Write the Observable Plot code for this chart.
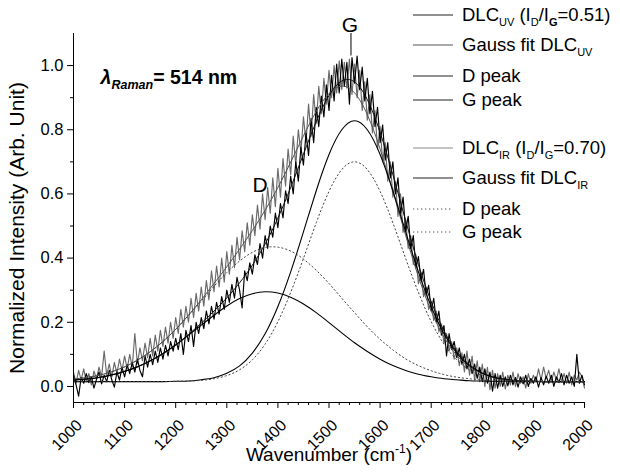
<!DOCTYPE html>
<html><head><meta charset="utf-8">
<script src="https://cdn.jsdelivr.net/npm/d3@7"></script>
<script src="https://cdn.jsdelivr.net/npm/@observablehq/plot@0.6"></script>
<style>
body{margin:0;background:#fff;}
#wrap{position:relative;width:620px;height:476px;font-family:"Liberation Sans",Arial,sans-serif;background:#fff;}
.row{position:absolute;left:413px;height:18px;white-space:nowrap;font-size:18.5px;line-height:18px;color:#000;}
.row svg{position:absolute;left:0;top:5px;}
.row span{position:absolute;left:49px;top:0;}
.row sub{font-size:11px;vertical-align:-5px;line-height:0;}
</style></head>
<body><div id="wrap"></div>
<script>
// ---------- data ----------
const spectrumWavenumber = [
1000,1005,1010,1015,1020,1025,1030,1035,1040,1045,1050,1055,1060,1065,1070,1075,1080,1085,1090,1095,
1100,1105,1110,1115,1120,1125,1130,1135,1140,1145,1150,1155,1160,1165,1170,1175,1180,1185,1190,1195,
1200,1205,1210,1215,1220,1225,1230,1235,1240,1245,1250,1255,1260,1265,1270,1275,1280,1285,1290,1295,
1300,1305,1310,1315,1320,1325,1330,1335,1340,1345,1350,1355,1360,1365,1370,1375,1380,1385,1390,1395,
1400,1405,1410,1415,1420,1425,1430,1435,1440,1445,1450,1455,1460,1465,1470,1475,1480,1485,1490,1495,
1500,1505,1510,1515,1520,1525,1530,1535,1540,1545,1550,1555,1560,1565,1570,1575,1580,1585,1590,1595,
1600,1605,1610,1615,1620,1625,1630,1635,1640,1645,1650,1655,1660,1665,1670,1675,1680,1685,1690,1695,
1700,1705,1710,1715,1720,1725,1730,1735,1740,1745,1750,1755,1760,1765,1770,1775,1780,1785,1790,1795,
1800,1805,1810,1815,1820,1825,1830,1835,1840,1845,1850,1855,1860,1865,1870,1875,1880,1885,1890,1895,
1900,1905,1910,1915,1920,1925,1930,1935,1940,1945,1950,1955,1960,1965,1970,1975,1980,1985,1990,1995,
2000];
const dlcUV = [
.035,.005,-.030,.028,.010,.040,.012,.030,-.005,.022,.045,.008,.035,.015,.050,.020,-.002,.045,.020,.060,
.030,.068,.040,.075,.045,.085,.050,.030,.095,.060,.100,.068,.110,.075,.120,.085,.128,.095,.140,.110,
.150,.115,.165,.100,.175,.140,.190,.125,.200,.165,.215,.180,.235,.195,.250,.210,.262,.225,.280,.240,
.300,.262,.318,.275,.340,.300,.245,.360,.330,.385,.350,.410,.380,.445,.400,.470,.430,.500,.465,.540,
.495,.570,.525,.610,.570,.655,.600,.700,.640,.745,.690,.790,.720,.835,.760,.870,.810,.905,.840,.940,
.860,.970,.890,1.005,.915,1.020,.935,1.010,.880,1.025,.945,1.030,.925,.995,.890,.960,.850,.920,.810,.870,
.760,.815,.705,.760,.650,.700,.600,.650,.540,.590,.485,.530,.430,.470,.370,.405,.330,.365,.285,.315,
.235,.275,.200,.235,.160,.190,.095,.165,.115,.140,.090,.120,.070,.100,.055,.085,.040,.070,.025,.060,
.015,.055,.010,.045,-.015,.040,-.005,.035,.000,.030,.002,.035,.005,.028,-.002,.030,.008,.035,.000,.025,
.010,.030,-.002,.028,.005,.032,.010,.035,.000,.030,.012,.040,.005,.035,.010,.030,.000,.100,.010,.035,
.005];
const dlcIR = [
.045,.010,.050,.020,.055,.015,.040,.005,.048,.025,.060,.030,.110,.035,.070,.030,.075,.040,.085,.050,
.095,.055,.100,.060,.165,.070,.120,.080,.135,.090,.150,.095,.160,.110,.175,.125,.185,.135,.200,.150,
.215,.165,.240,.185,.250,.200,.275,.215,.290,.235,.310,.250,.330,.270,.360,.295,.375,.310,.400,.325,
.420,.350,.440,.370,.465,.395,.485,.420,.510,.440,.535,.470,.565,.490,.600,.520,.620,.540,.650,.560,
.680,.590,.710,.625,.740,.660,.780,.690,.800,.730,.840,.760,.880,.780,.910,.820,.935,.850,.960,.880,
.985,.900,1.000,.915,1.015,.925,1.010,.930,1.020,.910,1.005,.900,.985,.860,.950,.830,.910,.790,.860,.740,
.810,.700,.760,.640,.700,.590,.640,.530,.600,.480,.520,.430,.470,.380,.410,.320,.355,.280,.310,.240,
.265,.205,.235,.170,.195,.135,.165,.110,.140,.085,.120,.065,.105,.045,.110,.035,.095,.020,.080,.015,
.070,.000,.060,-.010,.050,-.005,.040,.000,.045,-.008,.035,.005,.045,.000,.040,.010,.030,-.005,.040,.010,
.035,.015,.055,.020,.060,.025,.050,.015,.045,.020,.055,.015,.040,.010,.045,.005,.035,.020,.045,.030,
-.005];
const fitWavenumber = [1000,1025,1050,1075,1100,1125,1150,1175,1200,1225,1250,1275,1300,1325,1350,1375,1400,1425,1450,1475,
1500,1525,1550,1575,1600,1625,1650,1675,1700,1725,1750,1775,1800,1825,1850,1875,1900,1925,1950,1975,2000];
const gaussFitUV = [.020,.023,.028,.036,.047,.061,.080,.103,.130,.162,.197,.235,.276,.323,.378,.444,.525,.620,.724,.825,
.907,.952,.949,.894,.792,.660,.517,.380,.264,.173,.109,.068,.042,.028,.021,.018,.016,.015,.015,.015,.015];
const dPeakUV = [.020,.023,.028,.036,.047,.061,.079,.102,.129,.160,.191,.222,.251,.274,.289,.295,.291,.278,.257,.230,
.199,.167,.136,.109,.085,.065,.050,.038,.030,.024,.021,.018,.017,.016,.016,.015,.015,.015,.015,.015,.015];
const gPeakUV = [.015,.015,.015,.015,.015,.015,.015,.015,.016,.017,.021,.027,.041,.064,.104,.164,.249,.357,.482,.610,
.723,.800,.828,.800,.723,.610,.482,.357,.249,.164,.104,.064,.041,.027,.021,.017,.016,.015,.015,.015,.015];
const gaussFitIR = [.023,.028,.035,.046,.061,.082,.108,.140,.178,.222,.270,.321,.373,.428,.486,.549,.620,.699,.781,.857,
.913,.936,.915,.847,.740,.608,.471,.342,.235,.154,.097,.060,.039,.027,.020,.017,.016,.015,.015,.015,.015];
const dPeakIR = [.023,.028,.035,.046,.061,.082,.108,.140,.178,.221,.266,.312,.355,.391,.418,.433,.434,.422,.397,.362,
.321,.275,.230,.186,.147,.114,.086,.065,.049,.037,.029,.024,.020,.018,.017,.016,.016,.015,.015,.015,.015];
const gPeakIR = [.015,.015,.015,.015,.015,.015,.015,.015,.016,.017,.019,.024,.034,.052,.083,.132,.202,.293,.399,.510,
.608,.676,.700,.676,.608,.510,.399,.293,.202,.132,.083,.052,.034,.024,.019,.017,.016,.015,.015,.015,.015];
const xTicks = [1000,1100,1200,1300,1400,1500,1600,1700,1800,1900,2000];
const xMinorTicks = [1020,1040,1060,1080,1120,1140,1160,1180,1220,1240,1260,1280,1320,1340,1360,1380,1420,1440,1460,1480,
1520,1540,1560,1580,1620,1640,1660,1680,1720,1740,1760,1780,1820,1840,1860,1880,1920,1940,1960,1980];
const yTicks = [0.0,0.2,0.4,0.6,0.8,1.0];
const yMinorTicks = [0.1,0.3,0.5,0.7,0.9];
const peakLabels = [{w:1365, v:0.628, t:"D"}, {w:1541, v:1.127, t:"G"}];
const gMarker = [{w:1543, v1:1.03, v2:1.10}];
const laserLabel = [{w:1053, v:0.962, t:"λRaman= 514 nm"}];
const yTitle = "Normalized Intensity (Arb. Unit)";
const xTitle = "Wavenumber (cm-1)";
const legendItems = [
  {html:'DLC<sub>UV</sub> (I<sub>D</sub>/I<sub><b>G</b></sub>=0.51)', stroke:'#222', dash:null},
  {html:'Gauss fit DLC<sub>UV</sub>', stroke:'#555', dash:null},
  {html:'D peak', stroke:'#222', dash:null},
  {html:'G peak', stroke:'#222', dash:null},
  {html:'DLC<sub>IR</sub> (I<sub>D</sub>/I<sub>G</sub>=0.70)', stroke:'#8a8a8a', dash:null},
  {html:'Gauss fit DLC<sub>IR</sub>', stroke:'#222', dash:null},
  {html:'D peak', stroke:'#555', dash:'1.3,2.7'},
  {html:'G peak', stroke:'#555', dash:'1.3,2.7'}
];
const legendY = [15,45,76,100,148,178,209,232];

// ---------- build ----------
const spec = vals => spectrumWavenumber.map((w,i)=>({w, v: vals[i]}));
const fit = vals => fitWavenumber.map((w,i)=>({w, v: vals[i]}));
const FONT = "Liberation Sans, Arial, sans-serif";

const chart = Plot.plot({
  width: 620, height: 476,
  marginLeft: 73, marginRight: 36, marginTop: 33, marginBottom: 74,
  style: {fontFamily: FONT, background: "#fff", color: "#000"},
  x: {domain: [1000, 2000], axis: null},
  y: {domain: [-0.05, 1.1], axis: null},
  marks: [
    Plot.line(spec(dlcIR), {x:"w", y:"v", stroke:"#6a6a6a", strokeWidth:1.15}),
    Plot.line(spec(dlcUV), {x:"w", y:"v", stroke:"#000", strokeWidth:1.15}),
    Plot.line(fit(gaussFitIR), {x:"w", y:"v", stroke:"#555", strokeWidth:1, curve:"natural"}),
    Plot.line(fit(gaussFitUV), {x:"w", y:"v", stroke:"#111", strokeWidth:1, curve:"natural"}),
    Plot.line(fit(dPeakUV), {x:"w", y:"v", stroke:"#000", strokeWidth:1.1, curve:"natural"}),
    Plot.line(fit(gPeakUV), {x:"w", y:"v", stroke:"#000", strokeWidth:1.1, curve:"natural"}),
    Plot.line(fit(dPeakIR), {x:"w", y:"v", stroke:"#444", strokeWidth:1, strokeDasharray:"1.3,2.7", curve:"natural"}),
    Plot.line(fit(gPeakIR), {x:"w", y:"v", stroke:"#444", strokeWidth:1, strokeDasharray:"1.3,2.7", curve:"natural"}),
    Plot.ruleX([1000], {stroke:"#000"}),
    Plot.ruleY([-0.05], {stroke:"#000"}),
    Plot.axisX({ticks: xTicks, tickSize: 6, fill: null, label: null}),
    Plot.axisX({ticks: xTicks, tickSize: 0, tickPadding: 20, tickRotate: -45, dx: 6, tickFormat: d => String(d), fontSize: 16, label: null}),
    Plot.axisX({ticks: xMinorTicks, tickSize: 3, fill: null, label: null}),
    Plot.axisY({ticks: yTicks, tickSize: 6, tickPadding: 4, tickFormat: d => d.toFixed(1), fontSize: 16.5, label: null}),
    Plot.axisY({ticks: yMinorTicks, tickSize: 3, fill: null, label: null}),
    Plot.ruleX(gMarker, {x:"w", y1:"v1", y2:"v2", stroke:"#000"}),
    Plot.text(peakLabels, {x:"w", y:"v", text:"t", fontSize: 21}),
    Plot.text(laserLabel, {x:"w", y:"v", text:"t", textAnchor:"start", fontSize: 19.5, fontWeight:"bold"}),
    Plot.text([yTitle], {frameAnchor:"left", textAnchor:"middle", rotate:-90, dx:-56, dy:10, fontSize: 21}),
    Plot.text([xTitle], {frameAnchor:"bottom", textAnchor:"middle", dy:58, fontSize: 19})
  ]
});

// rich text (sub/superscripts) as real text
d3.select(chart).selectAll("text").each(function(){
  const t = this.textContent;
  if (t === "λRaman= 514 nm") {
    this.innerHTML = '<tspan font-style="italic">λ</tspan><tspan font-style="italic" font-size="12.5" dy="5">Raman</tspan><tspan dy="-5">= 514 nm</tspan>';
  } else if (t === "Wavenumber (cm-1)") {
    this.innerHTML = 'Wavenumber (cm<tspan font-size="12" dy="-8">-1</tspan><tspan dy="8">)</tspan>';
  }
});

const wrap = document.getElementById("wrap");
wrap.appendChild(chart);
legendItems.forEach((item, i) => {
  const row = document.createElement("div");
  row.className = "row";
  row.style.top = (legendY[i] - 9) + "px";
  row.innerHTML = `<svg width="40" height="8"><line x1="0" x2="40" y1="4" y2="4" stroke="${item.stroke}" stroke-width="1.2" ${item.dash ? `stroke-dasharray="${item.dash}"` : ""}/></svg><span>${item.html}</span>`;
  wrap.appendChild(row);
});
</script>
</body></html>
